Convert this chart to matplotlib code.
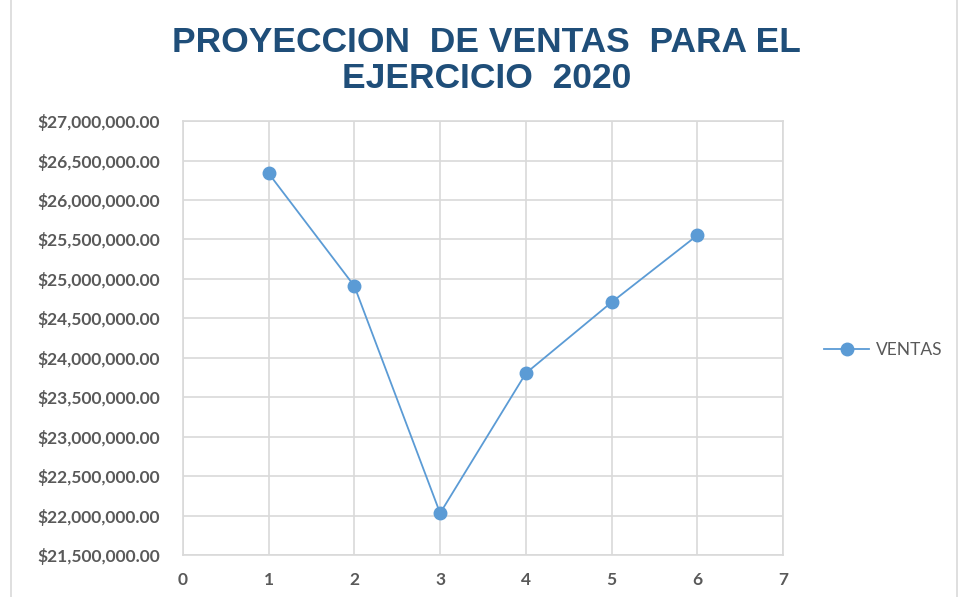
import matplotlib.pyplot as plt
from matplotlib.ticker import FuncFormatter
from matplotlib.patches import Rectangle

# data
periodos = [1, 2, 3, 4, 5, 6]
ventas = [26340000, 24910000, 22030000, 23805000, 24705000, 25555000]
titulo = "PROYECCION  DE VENTAS  PARA EL\nEJERCICIO  2020"

fig = plt.figure(figsize=(9.67, 5.97), dpi=100)
ax = fig.add_axes([0.189, 0.0704, 0.621, 0.7266])

ax.plot(periodos, ventas, color="#5B9BD5", linewidth=1.3, marker="o",
        markersize=9, markerfacecolor="#5B9BD5", markeredgecolor="#5B9BD5",
        label="VENTAS", zorder=3)

ax.set_xlim(0, 7)
ax.set_ylim(21500000, 27000000)
ax.set_xticks(range(0, 8))
ax.set_yticks(range(21500000, 27000001, 500000))
ax.yaxis.set_major_formatter(FuncFormatter(lambda v, p: "${:,.2f}".format(v)))

ax.grid(True, color="#D9D9D9", linewidth=1.2)
ax.set_axisbelow(True)
for s in ax.spines.values():
    s.set_color("#D9D9D9")
    s.set_linewidth(1.2)
ax.tick_params(length=0, pad=12, labelsize=12.5, labelcolor="#595959")
for lab in ax.get_xticklabels() + ax.get_yticklabels():
    lab.set_fontfamily("Lato")
    lab.set_fontweight("bold")
ax.tick_params(axis="y", pad=16.5)

fig.text(0.503, 0.899, titulo, ha="center", va="center", fontsize=25.5,
         fontweight="bold", color="#1F4E79", family="Liberation Sans",
         linespacing=1.12)

leg = fig.legend(loc="center left", bbox_to_anchor=(0.836, 0.413), frameon=False,
                 prop={"family": "Lato", "size": 12.5}, handlelength=2.6,
                 handletextpad=0.4)
for t in leg.get_texts():
    t.set_color("#595959")

fig.patches.append(Rectangle((0.011, -0.01), 0.979, 1.05, transform=fig.transFigure,
                             fill=False, edgecolor="#D9D9D9", linewidth=1.2))

plt.savefig("out.png", dpi=100)
